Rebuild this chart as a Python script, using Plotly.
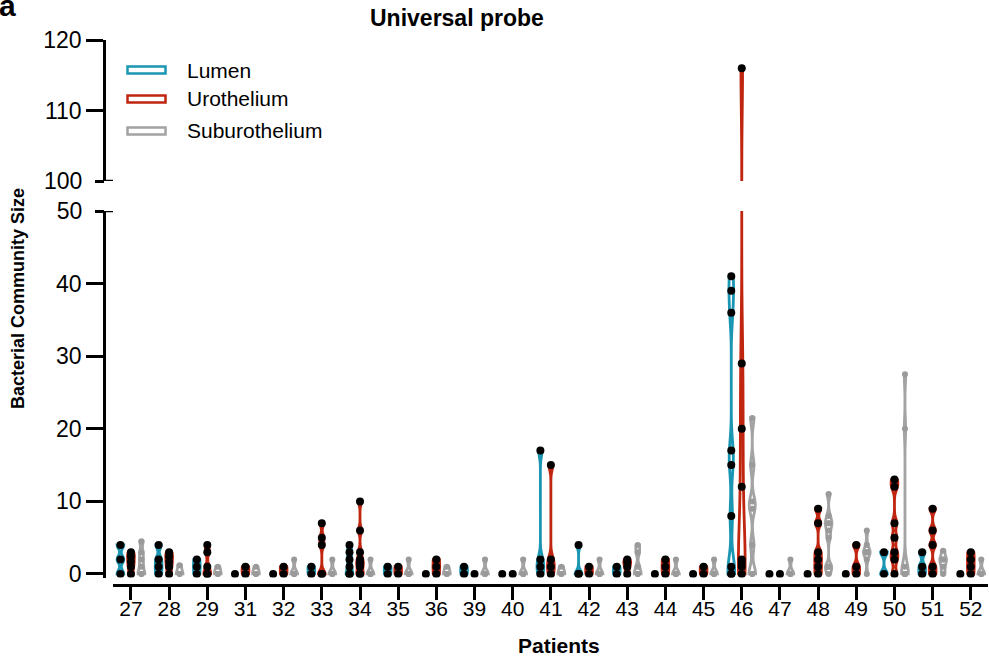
import plotly.graph_objects as go

patients = ["27", "28", "29", "31", "32", "33", "34", "35", "36", "39", "40", "41",
            "42", "43", "44", "45", "46", "47", "48", "49", "50", "51", "52"]

lumen = [
    [0, 2, 4],                       # 27
    [0, 1, 2, 4],                    # 28
    [0, 1, 2],                       # 29
    [0],                             # 31
    [0],                             # 32
    [0, 1],                          # 33
    [0, 0, 1, 2, 3, 4],              # 34
    [0, 1],                          # 35
    [0],                             # 36
    [0, 1],                          # 39
    [0],                             # 40
    [0, 1, 2, 17],                   # 41
    [0, 0, 4],                       # 42
    [0, 1],                          # 43
    [0],                             # 44
    [0],                             # 45
    [0, 0, 1, 8, 15, 17, 36, 39, 41],  # 46
    [0],                             # 47
    [0],                             # 48
    [0],                             # 49
    [0, 3],                          # 50
    [0, 1, 3],                       # 51
    [0],                             # 52
]

urothelium = [
    [0, 1, 1.7, 2.4, 3],             # 27
    [0, 1, 1.7, 2.4, 3],             # 28
    [0, 0, 1, 3, 4],                 # 29
    [0, 1],                          # 31
    [0, 1],                          # 32
    [0, 0, 4, 5, 7],                 # 33
    [0, 0, 1, 1.5, 2, 3, 6, 10],     # 34
    [0, 1],                          # 35
    [0, 1, 2],                       # 36
    [0],                             # 39
    [0],                             # 40
    [0, 1, 2, 15],                   # 41
    [0, 1],                          # 42
    [0, 1, 1.6, 2],                  # 43
    [0, 1, 2],                       # 44
    [0, 1],                          # 45
    [0, 1, 1.5, 2, 12, 20, 29, 116],  # 46
    [0],                             # 47
    [0, 1, 2, 3, 7, 9],              # 48
    [0, 1, 4],                       # 49
    [0, 2, 3, 5, 7, 12, 13],         # 50
    [0, 1, 4, 6, 9],                 # 51
    [0, 1, 2, 3],                    # 52
]

suburothelium = [
    [0, 0, 1, 2, 3, 4.5],            # 27
    [0, 0, 1.2],                     # 28
    [0, 0, 1],                       # 29
    [0, 0, 1],                       # 31
    [0, 0, 0, 2],                    # 32
    [0, 0, 0, 2],                    # 33
    [0, 0, 0, 2],                    # 34
    [0, 0, 0, 2],                    # 35
    [0, 0, 1],                       # 36
    [0, 0, 0, 2],                    # 39
    [0, 0, 0, 2],                    # 40
    [0, 0, 1],                       # 41
    [0, 0, 0, 2],                    # 42
    [0, 0, 1, 3, 4],                 # 43
    [0, 0, 0, 2],                    # 44
    [0, 0, 0, 2],                    # 45
    [0, 0, 4, 9, 10, 15, 21.5],      # 46
    [0, 0, 0, 2],                    # 47
    [0, 1, 1, 5, 6, 7, 7, 8, 11],    # 48
    [0, 2, 3, 3, 3, 4, 6],           # 49
    [0, 0, 0, 0, 1, 20, 27.5],       # 50
    [0, 1, 2, 2, 3.2],               # 51
    [0, 0, 0, 2],                    # 52
]

lower_ticks = [0, 10, 20, 30, 40]
upper_ticks = [110, 120]
lower_break = 50
upper_break = 100

FONT = "Arial, Liberation Sans, sans-serif"
TEAL = "#1a96b3"
RED = "#c0250f"
GREY = "#a3a3a3"

tissues = [
    ("Lumen", lumen, TEAL, "black", 8),
    ("Urothelium", urothelium, RED, "black", 8),
    ("Suburothelium", suburothelium, GREY, "#9a9a9a", 6),
]

W, H = 989, 656
ML, MR, MT, MB = 104, 1, 40, 71
PW, PH = W - ML - MR, H - MT - MB


def px(x):
    return (x - ML) / PW


def py(y):
    return (H - MB - y) / PH


fig = go.Figure()
for name, data, color, dot, dsize in tissues:
    for p, vals in zip(patients, data):
        span = max(vals) - min(vals)
        bw = max(0.5, 0.05 * span)
        for ya in ["y", "y2"]:
            fig.add_trace(go.Violin(
                x=[p] * len(vals), y=vals, xaxis="x", yaxis=ya,
                name=name, offsetgroup=name, alignmentgroup="all",
                scalegroup=f"{name}-{p}-{ya}", scalemode="width",
                spanmode="hard", bandwidth=bw,
                line=dict(color=color, width=2.8 if span > 0 else 0),
                fillcolor="white",
                points="all", pointpos=0, jitter=0,
                marker=dict(color=dot, size=dsize, line=dict(width=0)),
                showlegend=False, hoverinfo="x+y",
            ))

# empty traces so that the break-label axes get drawn
for ya in ["y3", "y4"]:
    fig.add_trace(go.Scatter(x=[], y=[], xaxis="x", yaxis=ya, showlegend=False,
                             hoverinfo="skip"))

axis_common = dict(showgrid=False, zeroline=False, showline=True, linecolor="black",
                   linewidth=2.5, ticks="outside", tickwidth=2.5, tickcolor="black",
                   tickfont=dict(family=FONT, size=23, color="black"))
break_common = dict(anchor="free", position=0, showgrid=False, zeroline=False,
                    showline=False, ticks="outside", ticklen=9, tickwidth=2.5,
                    tickcolor="black", ticklabelstandoff=8,
                    tickfont=dict(family=FONT, size=23, color="black"))

fig.update_layout(
    width=W, height=H,
    margin=dict(l=ML, r=MR, t=MT, b=MB),
    plot_bgcolor="white", paper_bgcolor="white",
    violinmode="group", violingap=0.175, violingroupgap=0.36,
    font=dict(family=FONT, color="black"),
    xaxis=dict(type="category", categoryorder="array", categoryarray=patients,
               domain=[px(113), 1], anchor="free", position=0,
               range=[-0.47, 22.45], showgrid=False, zeroline=False, showline=True,
               linecolor="black", linewidth=2.5, ticks="outside", ticklen=13,
               tickwidth=2.5, tickcolor="black", ticklabelstandoff=-9,
               tickfont=dict(family=FONT, size=21, color="black")),
    yaxis=dict(domain=[py(577.6), py(211)], range=[-0.5, 50], anchor="free", position=0,
               tickvals=lower_ticks, ticklen=17, **axis_common),
    yaxis2=dict(domain=[py(181), 1], range=[100, 120], anchor="free", position=0,
                tickvals=upper_ticks, ticklen=17, **axis_common),
    yaxis3=dict(overlaying="y", range=[-0.5, 50], tickvals=[lower_break], **break_common),
    yaxis4=dict(overlaying="y2", range=[100, 120], tickvals=[upper_break], **break_common),
)

# break marks (right-hand part)
fig.add_shape(type="line", xref="paper", yref="y", x0=0, x1=px(113), y0=lower_break,
              y1=lower_break, line=dict(color="black", width=2.5))
fig.add_shape(type="line", xref="paper", yref="y2", x0=0, x1=px(113), y0=upper_break,
              y1=upper_break, line=dict(color="black", width=2.5))

# custom legend
legend_rows = [("Lumen", TEAL, 70), ("Urothelium", RED, 99), ("Suburothelium", GREY, 131)]
for label, color, yc in legend_rows:
    fig.add_shape(type="rect", xref="paper", yref="paper",
                  x0=px(127.5), x1=px(165.5), y0=py(yc + 3.5), y1=py(yc - 3.5),
                  line=dict(color=color, width=2.5), fillcolor="white")
    fig.add_annotation(text=label, xref="paper", yref="paper", x=px(185), y=py(yc),
                       xanchor="left", yanchor="middle", showarrow=False,
                       font=dict(family=FONT, size=21, color="black"))

fig.add_annotation(text="<b>Universal probe</b>", xref="paper", yref="paper",
                   x=px(457), y=py(18), xanchor="center", yanchor="middle",
                   showarrow=False, font=dict(family=FONT, size=23, color="black"))
fig.add_annotation(text="<b>Bacterial Community Size</b>", xref="paper", yref="paper",
                   x=px(18), y=py(299), xanchor="center", yanchor="middle", textangle=-90,
                   showarrow=False, font=dict(family=FONT, size=18, color="black"))
fig.add_annotation(text="<b>Patients</b>", xref="paper", yref="paper",
                   x=px(559), y=py(645), xanchor="center", yanchor="middle",
                   showarrow=False, font=dict(family=FONT, size=21, color="black"))
fig.add_annotation(text="<b>a</b>", xref="paper", yref="paper",
                   x=px(-3), y=py(-13), xanchor="left", yanchor="top",
                   showarrow=False, font=dict(family=FONT, size=30, color="black"))

fig.write_html("out.html", config={"displayModeBar": False},
               post_script="document.body.style.margin='0';")
